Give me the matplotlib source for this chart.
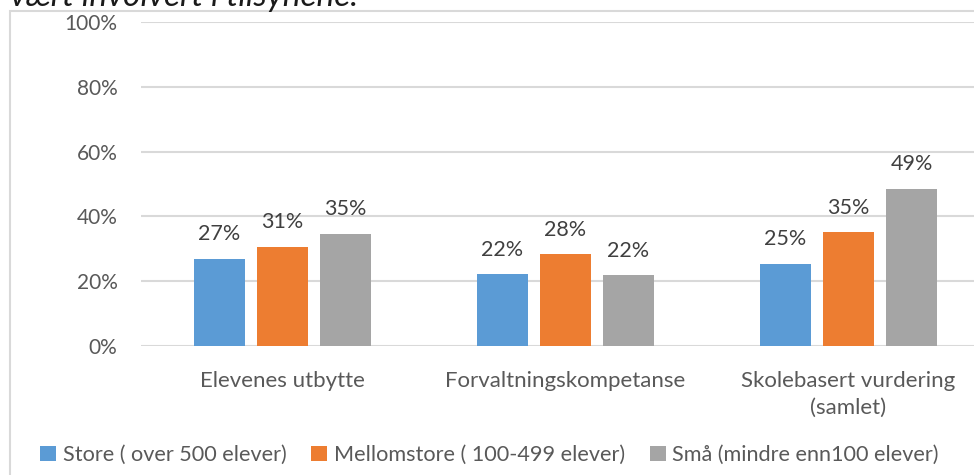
import matplotlib.pyplot as plt
import matplotlib.patches as patches
import numpy as np

# categories and values (percent)
categories = ['Elevenes utbytte', 'Forvaltningskompetanse', 'Skolebasert vurdering\n(samlet)']
series_names = ['Store ( over 500 elever)', 'Mellomstore ( 100-499 elever)', 'Små (mindre enn100 elever)']
store = [26.8, 22.1, 25.3]
mellomstore = [30.6, 28.3, 35.1]
smaa = [34.6, 21.8, 48.6]
y_ticks = [0, 20, 40, 60, 80, 100]
colors = ['#5B9BD5', '#ED7D31', '#A5A5A5']

plt.rcParams['font.family'] = ['Lato', 'DejaVu Sans']

fig = plt.figure(figsize=(9.74, 4.75), dpi=100)
ax = fig.add_axes([141 / 974, 129.3 / 475, 849 / 974, 323.4 / 475])

x = np.arange(len(categories))
step = 0.2226
width = 0.177

for i, (vals, name) in enumerate(zip([store, mellomstore, smaa], series_names)):
    bars = ax.bar(x + (i - 1) * step, vals, width, color=colors[i], label=name, zorder=3)
    for b, v in zip(bars, vals):
        ax.annotate(f'{round(v)}%', (b.get_x() + b.get_width() / 2, v),
                    xytext=(0, 10.5), textcoords='offset points', ha='center', va='bottom',
                    fontsize=15.5, color='#404040')

ax.set_xlim(-0.5, 2.5)
ax.set_ylim(0, 100)
ax.set_yticks(y_ticks)
ax.set_yticklabels([f'{t}%' for t in y_ticks])
ax.set_xticks(x)
ax.set_xticklabels(categories, linespacing=1.45)
ax.tick_params(axis='y', length=0, pad=17, labelsize=15, labelcolor='#595959')
ax.tick_params(axis='x', length=0, pad=18, labelsize=16, labelcolor='#595959')
ax.grid(axis='y', color='#d9d9d9', linewidth=1.5, zorder=0)
for s in ax.spines.values():
    s.set_visible(False)

# outer chart border (runs off the right and bottom edges)
fig.patches.append(patches.Rectangle((10 / 974, -0.2), 1.1, 1.2 - 10.5 / 475,
                                     transform=fig.transFigure, fill=False,
                                     edgecolor='#d9d9d9', linewidth=1.5))

# cut-off caption at the top
fig.text(10 / 974, 1 - 6 / 475, 'vært involvert i tilsynene.', fontsize=24, style='italic',
         color='#1a1a1a', ha='left', va='baseline')

fig.legend(loc='center left', bbox_to_anchor=(40 / 974, 20 / 475), ncol=3, frameon=False,
           fontsize=15.6, labelcolor='#595959', borderpad=0, borderaxespad=0,
           handlelength=0.74, handleheight=0.74, handletextpad=0.3, columnspacing=1.15)

fig.savefig('out.png', dpi=100)
